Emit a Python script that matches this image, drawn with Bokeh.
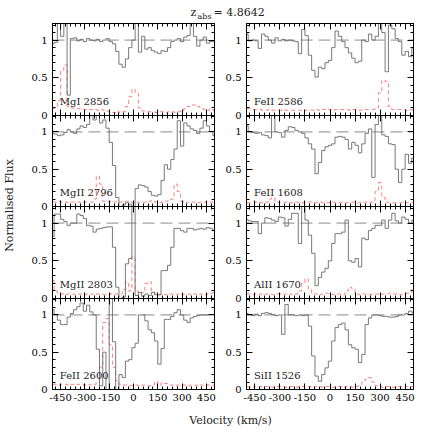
import math
from bokeh.plotting import figure
from bokeh.models import Range1d, LinearAxis, FixedTicker, Span, Label
from bokeh.layouts import row, column
from bokeh.embed import file_html
from bokeh.resources import INLINE

FONT = "DejaVu Serif"

# ---------------- data ----------------
VEL = [-500, -480, -460, -440, -420, -400, -380, -360, -340, -320,
       -300, -280, -260, -240, -220, -200, -180, -160, -140, -120,
       -100, -80, -60, -40, -20, 0, 20, 40, 60, 80,
       100, 120, 140, 160, 180, 200, 220, 240, 260, 280,
       300, 320, 340, 360, 380, 400, 420, 440, 460, 480,
       500]

MGI2856_FLUX = [0.95, 0.97, 1.25, 1.05, 1.25, 0.27, 1.02, 1.03, 0.99, 1.01,
                0.98, 1.02, 1.00, 0.99, 1.01, 0.98, 1.00, 1.02, 0.98, 0.95,
                0.85, 0.68, 0.64, 0.75, 0.90, 1.00, 1.25, 0.84, 1.05, 0.88,
                0.90, 0.86, 0.84, 0.82, 0.86, 0.85, 0.90, 0.98, 1.00, 1.02,
                0.98, 1.04, 1.06, 1.25, 1.05, 0.92, 1.00, 1.04, 0.96, 0.98,
                0.98]
MGI2856_ERR = [0.09, 0.10, 0.20, 0.60, 0.67, 0.12, 0.10, 0.09, 0.09, 0.08,
               0.08, 0.07, 0.08, 0.08, 0.07, 0.08, 0.07, 0.06, 0.05, 0.04,
               0.06, 0.04, 0.05, 0.12, 0.25, 0.35, 0.30, 0.10, 0.06, 0.05,
               0.05, 0.05, 0.04, 0.05, 0.05, 0.04, 0.05, 0.05, 0.04, 0.05,
               0.06, 0.09, 0.12, 0.14, 0.14, 0.12, 0.10, 0.08, 0.07, 0.09,
               0.07]

FEII2586_FLUX = [1.08, 0.99, 1.00, 0.99, 0.89, 1.08, 1.05, 1.00, 0.96, 1.03,
                 0.99, 1.01, 0.99, 1.00, 0.99, 0.98, 0.82, 1.14, 1.06, 0.80,
                 0.60, 0.51, 0.64, 0.62, 0.70, 0.73, 0.90, 1.12, 1.05, 0.98,
                 0.90, 0.83, 0.76, 0.70, 0.72, 1.00, 0.98, 1.08, 1.00, 1.05,
                 1.25, 1.10, 0.58, 1.20, 1.15, 1.02, 0.98, 0.80, 0.85, 0.78,
                 0.90]
FEII2586_ERR = [0.09, 0.09, 0.08, 0.08, 0.08, 0.07, 0.07, 0.08, 0.07, 0.07,
                0.07, 0.08, 0.07, 0.07, 0.07, 0.07, 0.07, 0.06, 0.07, 0.07,
                0.07, 0.08, 0.07, 0.08, 0.09, 0.08, 0.07, 0.08, 0.08, 0.08,
                0.08, 0.07, 0.08, 0.08, 0.07, 0.08, 0.08, 0.08, 0.08, 0.10,
                0.30, 0.47, 0.45, 0.12, 0.08, 0.08, 0.08, 0.08, 0.07, 0.08,
                0.07]

MGII2796_FLUX = [0.98, 0.97, 0.95, 0.96, 0.99, 1.03, 1.00, 0.98, 1.04, 1.08,
                 1.06, 1.10, 1.25, 1.16, 1.22, 1.12, 1.16, 1.05, 0.86, 0.55,
                 0.12, 0.00, 0.02, 0.05, 0.03, 0.00, 0.24, 0.29, 0.28, 0.26,
                 0.20, 0.15, 0.14, 0.16, 0.35, 0.56, 0.50, 0.63, 0.77, 1.15,
                 0.81, 1.12, 1.08, 1.04, 1.02, 0.98, 1.05, 1.15, 1.08, 1.00,
                 0.95]
MGII2796_ERR = [0.06, 0.06, 0.07, 0.06, 0.06, 0.05, 0.06, 0.06, 0.06, 0.05,
                0.06, 0.06, 0.06, 0.10, 0.41, 0.30, 0.07, 0.06, 0.07, 0.06,
                0.07, 0.06, 0.06, 0.07, 0.06, 0.05, 0.06, 0.05, 0.05, 0.06,
                0.07, 0.08, 0.06, 0.05, 0.06, 0.07, 0.08, 0.10, 0.30, 0.20,
                0.07, 0.06, 0.05, 0.06, 0.06, 0.05, 0.06, 0.06, 0.05, 0.06,
                0.06]

FEII1608_FLUX = [1.08, 1.00, 0.99, 0.98, 0.99, 0.96, 0.95, 0.92, 1.25, 1.00,
                 0.99, 0.93, 1.02, 1.07, 1.06, 1.02, 1.00, 0.98, 0.92, 0.84,
                 0.77, 0.44, 0.59, 0.75, 0.80, 0.82, 0.84, 0.93, 0.94, 0.93,
                 0.90, 0.77, 0.86, 0.82, 0.72, 0.84, 0.98, 1.04, 0.39, 1.10,
                 1.25, 0.96, 0.94, 0.84, 0.83, 0.50, 0.32, 0.50, 0.70, 0.58,
                 0.65]
FEII1608_ERR = [0.05, 0.05, 0.05, 0.06, 0.05, 0.05, 0.06, 0.10, 0.12, 0.06,
                0.05, 0.05, 0.06, 0.05, 0.05, 0.06, 0.05, 0.05, 0.05, 0.06,
                0.05, 0.05, 0.06, 0.05, 0.05, 0.05, 0.06, 0.05, 0.05, 0.06,
                0.05, 0.05, 0.06, 0.05, 0.05, 0.05, 0.06, 0.05, 0.08, 0.20,
                0.32, 0.12, 0.06, 0.05, 0.05, 0.05, 0.05, 0.06, 0.05, 0.05,
                0.05]

MGII2803_FLUX = [0.82, 1.12, 1.12, 1.05, 1.02, 0.97, 1.00, 1.00, 1.12, 1.10,
                 1.06, 0.97, 0.96, 0.88, 0.92, 0.93, 0.94, 0.95, 0.95, 0.68,
                 0.15, 0.00, 0.02, 0.46, 0.53, 1.25, 0.04, 0.08, 0.03, 0.06,
                 0.04, 0.08, 0.05, 0.05, 0.37, 0.37, 0.44, 0.68, 0.93, 0.93,
                 0.90, 0.88, 0.93, 0.93, 0.91, 0.92, 0.93, 0.92, 0.94, 0.93,
                 0.90]
MGII2803_ERR = [0.24, 0.10, 0.06, 0.06, 0.05, 0.06, 0.06, 0.05, 0.06, 0.06,
                0.05, 0.06, 0.06, 0.05, 0.06, 0.06, 0.05, 0.06, 0.06, 0.05,
                0.06, 0.06, 0.12, 0.22, 0.10, 0.55, 0.10, 0.06, 0.08, 0.20,
                0.22, 0.10, 0.06, 0.05, 0.06, 0.05, 0.06, 0.06, 0.05, 0.06,
                0.05, 0.06, 0.06, 0.05, 0.06, 0.05, 0.06, 0.05, 0.06, 0.07,
                0.08]

ALII1670_FLUX = [1.05, 1.03, 1.02, 1.02, 0.86, 1.00, 1.07, 1.06, 1.04, 1.02,
                 1.08, 1.07, 0.96, 1.05, 1.13, 1.13, 0.73, 1.25, 1.04, 0.84,
                 0.60, 0.17, 0.28, 0.35, 0.40, 0.50, 0.73, 0.86, 0.86, 0.88,
                 1.04, 0.50, 0.48, 0.53, 0.42, 0.80, 0.78, 0.90, 0.93, 0.97,
                 0.97, 1.04, 0.93, 1.04, 1.13, 1.03, 1.00, 1.08, 1.05, 1.00,
                 1.04]
ALII1670_ERR = [0.06, 0.06, 0.05, 0.06, 0.06, 0.05, 0.06, 0.06, 0.05, 0.06,
                0.06, 0.05, 0.06, 0.06, 0.05, 0.06, 0.10, 0.20, 0.26, 0.12,
                0.06, 0.06, 0.05, 0.06, 0.07, 0.06, 0.05, 0.06, 0.06, 0.05,
                0.10, 0.15, 0.13, 0.06, 0.05, 0.06, 0.06, 0.05, 0.06, 0.06,
                0.05, 0.06, 0.06, 0.07, 0.06, 0.06, 0.05, 0.06, 0.07, 0.08,
                0.12]

FEII2600_FLUX = [1.07, 1.00, 0.93, 0.87, 0.87, 0.97, 1.02, 1.07, 1.11, 1.16,
                 1.05, 1.13, 1.04, 1.00, 0.54, 0.05, 0.50, 0.00, 1.25, 0.64,
                 0.00, 0.20, 0.16, 0.38, 0.40, 0.56, 0.62, 1.00, 1.00, 0.92,
                 0.80, 0.76, 0.65, 0.34, 0.55, 0.94, 0.94, 0.98, 1.03, 1.07,
                 1.00, 0.93, 0.90, 0.96, 0.98, 0.99, 1.00, 1.00, 1.00, 1.00,
                 1.00]
FEII2600_ERR = [0.07, 0.07, 0.06, 0.07, 0.07, 0.06, 0.07, 0.06, 0.07, 0.07,
                0.06, 0.07, 0.06, 0.07, 0.10, 0.30, 0.90, 0.95, 0.60, 0.30,
                0.12, 0.07, 0.06, 0.06, 0.05, 0.06, 0.06, 0.05, 0.06, 0.06,
                0.05, 0.06, 0.11, 0.06, 0.09, 0.08, 0.06, 0.06, 0.05, 0.06,
                0.06, 0.06, 0.05, 0.06, 0.06, 0.05, 0.06, 0.05, 0.06, 0.06,
                0.06]

SIII1526_FLUX = [1.02, 1.00, 0.99, 1.01, 0.99, 1.02, 1.03, 1.02, 1.00, 0.99,
                 1.00, 0.74, 1.14, 1.00, 1.00, 0.99, 1.00, 0.99, 1.00, 0.85,
                 0.45, 0.18, 0.11, 0.20, 0.29, 0.38, 0.65, 0.83, 0.87, 0.89,
                 0.80, 0.60, 0.56, 0.54, 0.36, 0.47, 0.87, 0.96, 1.00, 1.00,
                 0.99, 0.98, 0.98, 0.97, 0.97, 0.98, 1.00, 1.00, 1.02, 1.05,
                 1.03]
SIII1526_ERR = [0.04, 0.04, 0.03, 0.04, 0.04, 0.03, 0.04, 0.04, 0.03, 0.04,
                0.04, 0.04, 0.03, 0.04, 0.04, 0.03, 0.04, 0.04, 0.03, 0.04,
                0.03, 0.04, 0.04, 0.03, 0.04, 0.04, 0.03, 0.04, 0.04, 0.03,
                0.04, 0.04, 0.03, 0.04, 0.05, 0.10, 0.14, 0.16, 0.10, 0.05,
                0.04, 0.03, 0.04, 0.04, 0.03, 0.04, 0.04, 0.03, 0.04, 0.04,
                0.04]

LEFT_PANELS = [("MgI 2856", MGI2856_FLUX, MGI2856_ERR),
               ("MgII 2796", MGII2796_FLUX, MGII2796_ERR),
               ("MgII 2803", MGII2803_FLUX, MGII2803_ERR),
               ("FeII 2600", FEII2600_FLUX, FEII2600_ERR)]
RIGHT_PANELS = [("FeII 2586", FEII2586_FLUX, FEII2586_ERR),
                ("FeII 1608", FEII1608_FLUX, FEII1608_ERR),
                ("AlII 1670", ALII1670_FLUX, ALII1670_ERR),
                ("SiII 1526", SIII1526_FLUX, SIII1526_ERR)]

TITLE_Z = "z"
TITLE_SUB = "abs"
TITLE_VALUE = "= 4.8642"
X_LABEL = "Velocity (km/s)"
Y_LABEL = "Normalised Flux"

X_MAJOR = [-450, -300, -150, 0, 150, 300, 450]
X_MINOR = list(range(-480, 481, 30))
Y_MAJOR = [0, 0.5, 1]
Y_MINOR = [0.1, 0.2, 0.3, 0.4, 0.5, 0.6, 0.7, 0.8, 0.9, 1.0, 1.1, 1.2]
X_LABELS = {-450: "-450", -300: "-300", -150: "-150", 0: "0",
            150: "150", 300: "300", 450: "450"}
Y_LABELS = {0: "0", 0.5: "0.5", 1: "1"}

# ---------------- style / layout ----------------
FRAME_W = 167
FRAME_H = [92, 91, 92, 91]
OVERLAP = 6
TITLE_H = 22
YLAB_W = 28
XLAB_H = 25
FLUX_COLOR = "#6a6a6a"
ERR_COLOR = "#ff8080"
CONT_COLOR = "#8a8a8a"


def blank_axes(p, side, major, minor):
    for ticks, ln in ((minor, 3), (major, 6)):
        ax = LinearAxis(ticker=FixedTicker(ticks=[], minor_ticks=ticks),
                        major_tick_in=0, major_tick_out=0,
                        minor_tick_in=ln, minor_tick_out=0,
                        axis_line_color="black",
                        minor_tick_line_color="black",
                        major_label_standoff=0)
        p.add_layout(ax, side)


def label_axis(p, side, major, minor, overrides, standoff):
    ax = LinearAxis(ticker=FixedTicker(ticks=major, minor_ticks=minor),
                    major_tick_in=6, major_tick_out=0,
                    minor_tick_in=3, minor_tick_out=0,
                    major_label_overrides=overrides,
                    major_label_standoff=standoff,
                    major_label_text_font=FONT,
                    major_label_text_font_size="10px",
                    major_label_text_color="black",
                    axis_line_color="black",
                    major_tick_line_color="black",
                    minor_tick_line_color="black")
    p.add_layout(ax, side)


def panel(name, flux, err, col, r):
    last = (r == 3)
    bl = 19 if col == 0 else 29
    br = 3 if col == 0 else 23
    bt = 1 if r == 0 else 0
    bb = 22 if last else OVERLAP
    p = figure(width=bl + FRAME_W + br, height=bt + FRAME_H[r] + bb,
               x_range=Range1d(-500, 500), y_range=Range1d(0, 1.22),
               output_backend="svg", toolbar_location=None,
               x_axis_location=None, y_axis_location=None,
               min_border_left=bl, min_border_right=br,
               min_border_top=bt, min_border_bottom=bb,
               background_fill_color=None, border_fill_color=None,
               outline_line_color="black", outline_line_width=1)
    p.grid.visible = False
    label_axis(p, "left", Y_MAJOR, Y_MINOR, Y_LABELS, 5)
    blank_axes(p, "right", Y_MAJOR, Y_MINOR)
    blank_axes(p, "above", X_MAJOR, X_MINOR)
    if last:
        label_axis(p, "below", X_MAJOR, X_MINOR, X_LABELS, 4)
    else:
        blank_axes(p, "below", X_MAJOR, X_MINOR)

    p.add_layout(Span(location=1.0, dimension="width", line_color=CONT_COLOR,
                      line_width=1, line_dash="12 6", level="underlay"))
    p.step(VEL, err, mode="center", line_color=ERR_COLOR, line_width=1,
           line_dash="4 3")
    p.step(VEL, flux, mode="center", line_color=FLUX_COLOR, line_width=0.9)
    p.add_layout(Label(x=-455, y=0.11, text=name, text_font=FONT,
                       text_font_size="10px", text_color="#222222"))
    if not last:
        p.margin = (0, 0, -OVERLAP, 0)
    return p


def text_fig(w, h):
    f = figure(width=w, height=h, x_range=Range1d(0, w), y_range=Range1d(0, h),
               output_backend="svg", toolbar_location=None,
               x_axis_location=None, y_axis_location=None, min_border=0,
               outline_line_color=None, background_fill_color=None,
               border_fill_color=None)
    f.grid.visible = False
    return f


left_col = column(*[panel(n, fl, er, 0, i) for i, (n, fl, er) in enumerate(LEFT_PANELS)])
right_col = column(*[panel(n, fl, er, 1, i) for i, (n, fl, er) in enumerate(RIGHT_PANELS)])

col_h = (1 + FRAME_H[0]) + FRAME_H[1] + FRAME_H[2] + FRAME_H[3] + 22

title = text_fig(436, TITLE_H)
title.add_layout(Label(x=190, y=4, text=TITLE_Z, text_font=FONT,
                       text_font_size="11px", text_color="#222222"))
title.add_layout(Label(x=197, y=1.5, text=TITLE_SUB, text_font=FONT,
                       text_font_size="8px", text_color="#222222"))
title.add_layout(Label(x=213, y=4, text=TITLE_VALUE, text_font=FONT,
                       text_font_size="11px", text_color="#222222"))

ylab = text_fig(YLAB_W, col_h)
ylab.add_layout(Label(x=9, y=col_h - 183, text=Y_LABEL, text_font=FONT,
                      text_font_size="11px", text_color="#222222",
                      angle=math.pi / 2, text_align="center",
                      text_baseline="middle"))

xlab = text_fig(436, XLAB_H)
xlab.add_layout(Label(x=230, y=16, text=X_LABEL, text_font=FONT,
                      text_font_size="11px", text_color="#222222",
                      text_align="center", text_baseline="middle"))

layout = column(title, row(ylab, left_col, right_col), xlab)

open("out.html", "w").write(file_html(layout, INLINE))
